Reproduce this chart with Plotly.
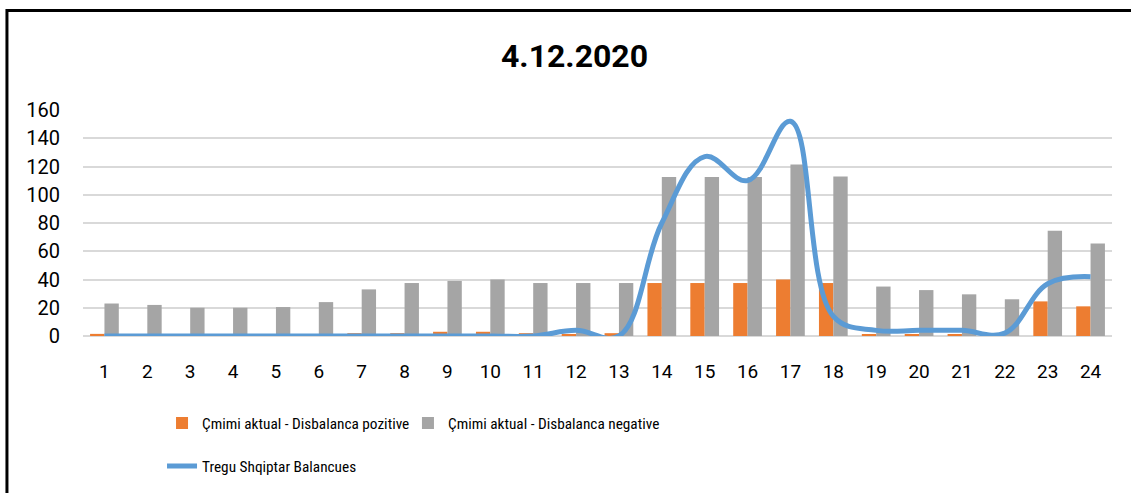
import plotly.graph_objects as go

hours = [str(h) for h in range(1, 25)]

# Çmimi aktual - Disbalanca pozitive
positive = [1.5, 0, 0, 0, 0, 0, 2, 2, 3, 3, 2, 1, 2,
            37.5, 37.5, 37.5, 40, 37.5, 1, 1, 1, 0, 24.5, 21]
# Çmimi aktual - Disbalanca negative
negative = [23, 22, 20, 20, 20.5, 24, 33, 37.5, 39, 40, 37.5, 37.5, 37.5,
            112.5, 112.5, 112.5, 121.5, 113, 35, 32.5, 29.5, 26, 74.5, 65.5]
# Tregu Shqiptar Balancues
balancing = [0, 0, 0, 0, 0, 0, 0, 0, 0, 0, 0, 4, 0,
             80, 127, 110, 152, 14, 4, 4, 4, 2, 37, 42]

NARROW = "Liberation Sans Narrow, Roboto Condensed, DejaVu Sans Condensed, Roboto, sans-serif"
WIDE = "Roboto, Liberation Sans, sans-serif"

fig = go.Figure()
fig.add_trace(go.Bar(x=hours, y=positive, name='Çmimi aktual - Disbalanca pozitive',
                     marker=dict(color='#ED7D31', line=dict(width=0)), legend='legend'))
fig.add_trace(go.Bar(x=hours, y=negative, name='Çmimi aktual - Disbalanca negative',
                     marker=dict(color='#A5A5A5', line=dict(width=0)), legend='legend2'))
fig.add_trace(go.Scatter(x=hours, y=balancing, mode='lines', name='Tregu Shqiptar Balancues',
                         line=dict(color='#5B9BD5', width=5, shape='spline', smoothing=1.1),
                         legend='legend3'))

legend_style = dict(orientation='h', xanchor='left', yanchor='middle', itemwidth=30,
                    font=dict(family=NARROW, size=15.3), bgcolor='rgba(0,0,0,0)')

fig.update_layout(
    width=1131, height=493,
    margin=dict(l=83, r=19, t=110, b=156),
    paper_bgcolor='white', plot_bgcolor='white',
    font=dict(family=WIDE, size=18, color='#000000'),
    title=dict(text='<b>4.12.2020</b>', x=0.508, xanchor='center', y=0.886, yanchor='middle',
               font=dict(family=WIDE, size=32, color='#000000')),
    barmode='group', bargap=0.33, bargroupgap=0,
    showlegend=True,
    xaxis=dict(type='category', showgrid=False, showline=False, ticks='',
               ticklabelstandoff=22, tickfont=dict(family=WIDE, size=19)),
    yaxis=dict(range=[0, 160], dtick=20, showgrid=True, gridcolor='#D9D9D9', gridwidth=1.5,
               zeroline=True, zerolinecolor='#D9D9D9', zerolinewidth=1.5,
               showline=False, ticks='', ticklabelstandoff=22, tickfont=dict(family=WIDE, size=20)),
    legend=dict(x=0.0768, y=-0.379, **legend_style),
    legend2=dict(x=0.3158, y=-0.379, **legend_style),
    legend3=dict(x=0.0768, y=-0.568, **legend_style),
    shapes=[dict(type='rect', xref='paper', yref='paper',
                 x0=-0.0739, x1=1.08, y0=-0.9, y1=1.4405,
                 line=dict(color='#000000', width=3), layer='above')],
)

fig.write_html("out.html", config={'displayModeBar': False},
               post_script="document.body.style.margin='0';document.body.style.overflow='hidden';")
